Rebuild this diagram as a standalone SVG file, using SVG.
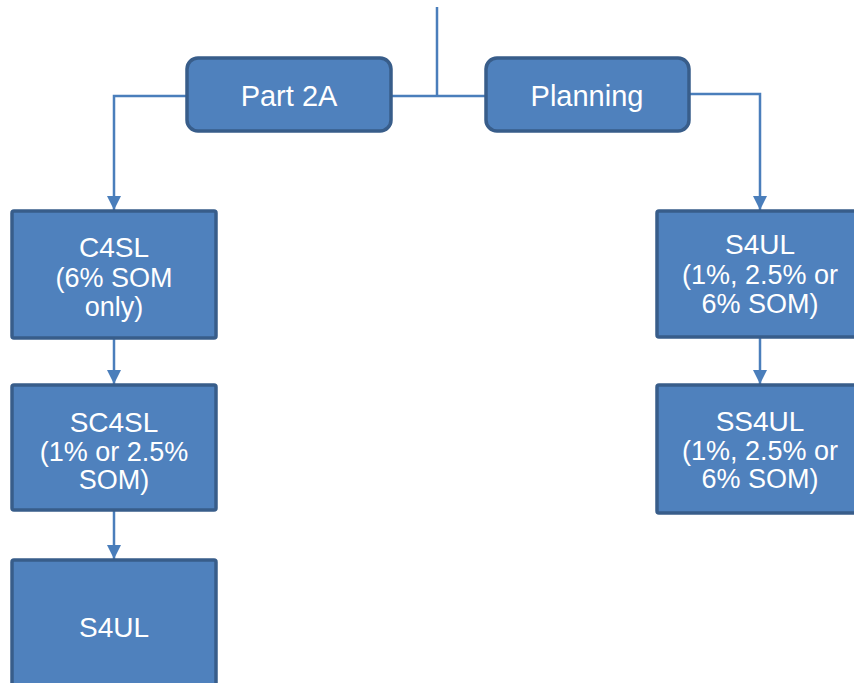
<svg xmlns="http://www.w3.org/2000/svg" width="854" height="683" viewBox="0 0 854 683">
<defs>
<style>
.box{fill:#4F81BD;stroke:#385D8A;stroke-width:3.5}
.t{fill:#FFFFFF;font-family:"Liberation Sans",Arial,sans-serif;font-size:27px;text-anchor:middle}
.tb{font-size:29px}
.h{font-size:28px}
.c{fill:none;stroke:#4A7EBB;stroke-width:2.5}
</style>
<marker id="ah" viewBox="0 0 14 14" refX="14" refY="7" markerWidth="14" markerHeight="14" markerUnits="userSpaceOnUse" orient="auto">
<path d="M0,0 L14,7 L0,14 Z" fill="#4A7EBB"/>
</marker>
</defs>
<rect width="854" height="683" fill="#FFFFFF"/>
<g id="connectors">
<path class="c" d="M437,7 L437,97"/>
<path class="c" d="M391,96 L486,96"/>
<path class="c" d="M187,96 L114,96 L114,210" marker-end="url(#ah)"/>
<path class="c" d="M689,94 L760,94 L760,210" marker-end="url(#ah)"/>
<path class="c" d="M114,339 L114,384" marker-end="url(#ah)"/>
<path class="c" d="M114,511 L114,559" marker-end="url(#ah)"/>
<path class="c" d="M760,338 L760,384" marker-end="url(#ah)"/>
</g>
<g id="part2a">
<rect class="box" x="187" y="58" width="204" height="73" rx="11"/>
<text class="t tb" x="289" y="106">Part 2A</text>
</g>
<g id="planning">
<rect class="box" x="486" y="58" width="203" height="73" rx="11"/>
<text class="t tb" x="587" y="106">Planning</text>
</g>
<g id="c4sl">
<rect class="box" x="12" y="211" width="204" height="127" rx="2"/>
<text class="t h" x="114" y="257">C4SL</text>
<text class="t" x="114" y="287">(6% SOM</text>
<text class="t" x="114" y="316">only)</text>
</g>
<g id="sc4sl">
<rect class="box" x="12" y="385" width="204" height="125" rx="2"/>
<text class="t h" x="114" y="432">SC4SL</text>
<text class="t" x="114" y="461">(1% or 2.5%</text>
<text class="t" x="114" y="489">SOM)</text>
</g>
<g id="s4ul-left">
<rect class="box" x="12" y="560" width="204" height="140" rx="2"/>
<text class="t h" x="114" y="637">S4UL</text>
</g>
<g id="s4ul-right">
<rect class="box" x="657" y="211" width="206" height="126" rx="2"/>
<text class="t h" x="760" y="254">S4UL</text>
<text class="t" x="760" y="284">(1%, 2.5% or</text>
<text class="t" x="760" y="313">6% SOM)</text>
</g>
<g id="ss4ul">
<rect class="box" x="657" y="385" width="206" height="128" rx="2"/>
<text class="t h" x="760" y="431">SS4UL</text>
<text class="t" x="760" y="460">(1%, 2.5% or</text>
<text class="t" x="760" y="488">6% SOM)</text>
</g>
</svg>
